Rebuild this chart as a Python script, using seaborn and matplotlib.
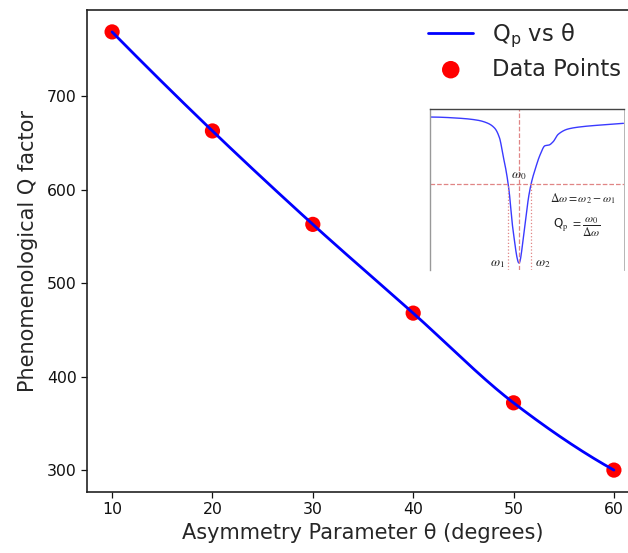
import numpy as np
import pandas as pd
import matplotlib
matplotlib.use("Agg")
import matplotlib.pyplot as plt
import seaborn as sns

# ---- data ----
theta = [10, 20, 30, 40, 50, 60]
q_factor = [769, 663, 563, 468, 372, 300]

# inset illustration curve (normalised units)
inset_x = [0.005, 0.160, 0.247, 0.299, 0.334, 0.359, 0.376, 0.393, 0.407, 0.428,
           0.459, 0.486, 0.510, 0.526, 0.541, 0.567, 0.593, 0.613, 0.635, 0.661,
           0.712, 0.782, 0.885, 0.997]
inset_y = [0.950, 0.942, 0.930, 0.911, 0.880, 0.818, 0.714, 0.611, 0.497, 0.248,
           0.043, 0.248, 0.466, 0.559, 0.621, 0.714, 0.772, 0.776, 0.797, 0.843,
           0.876, 0.890, 0.901, 0.911]
hline_y = 0.534
w0_x, w1_x, w2_x = 0.459, 0.402, 0.520

sns.set_style("ticks")
plt.rcParams["font.family"] = ["DejaVu Sans"]


def pchip(x, y, n=400):
    """Shape-preserving piecewise cubic through the given points."""
    x = np.asarray(x, float)
    y = np.asarray(y, float)
    h = np.diff(x)
    d = np.diff(y) / h
    m = np.zeros_like(y)
    for k in range(1, len(x) - 1):
        if d[k - 1] * d[k] > 0:
            w1 = 2 * h[k] + h[k - 1]
            w2 = h[k] + 2 * h[k - 1]
            m[k] = (w1 + w2) / (w1 / d[k - 1] + w2 / d[k])

    def end(h0, h1, d0, d1):
        v = ((2 * h0 + h1) * d0 - h0 * d1) / (h0 + h1)
        if np.sign(v) != np.sign(d0):
            v = 0.0
        elif np.sign(d0) != np.sign(d1) and abs(v) > abs(3 * d0):
            v = 3 * d0
        return v

    m[0] = end(h[0], h[1], d[0], d[1])
    m[-1] = end(h[-1], h[-2], d[-1], d[-2])
    xs = np.linspace(x[0], x[-1], n)
    idx = np.clip(np.searchsorted(x, xs) - 1, 0, len(x) - 2)
    t = (xs - x[idx]) / h[idx]
    h00 = 2 * t ** 3 - 3 * t ** 2 + 1
    h10 = t ** 3 - 2 * t ** 2 + t
    h01 = -2 * t ** 3 + 3 * t ** 2
    h11 = t ** 3 - t ** 2
    ys = h00 * y[idx] + h10 * h[idx] * m[idx] + h01 * y[idx + 1] + h11 * h[idx] * m[idx + 1]
    return xs, ys


xs, ys = pchip(theta, q_factor)
df_line = pd.DataFrame({"theta": xs, "Q": ys})
df_pts = pd.DataFrame({"theta": theta, "Q": q_factor})

fig = plt.figure(figsize=(6.28, 5.53), dpi=100)
ax = fig.add_axes([87 / 628, 61 / 553, 552 / 628, 482 / 553])

sns.lineplot(data=df_line, x="theta", y="Q", ax=ax, color="blue", lw=2,
             label=r"Q$_\mathrm{p}$ vs θ", zorder=3)
sns.scatterplot(data=df_pts, x="theta", y="Q", ax=ax, color="red", s=120,
                edgecolor="none", label="Data Points", zorder=2)

ax.set_xticks([10, 20, 30, 40, 50, 60])
ax.set_yticks([300, 400, 500, 600, 700])
ax.tick_params(labelsize=11.3, colors="#111111", length=4, width=0.9)
ax.set_xlabel("Asymmetry Parameter θ (degrees)", fontsize=15, labelpad=4)
ax.set_ylabel("Phenomenological Q factor", fontsize=15, labelpad=6)
for s in ax.spines.values():
    s.set_color("#222222")
    s.set_linewidth(1.2)

leg = ax.legend(loc="upper right", bbox_to_anchor=(0.987, 1.0), frameon=False,
                fontsize=16.3, handlelength=2.0, markerscale=1.15, borderaxespad=0.1,
                labelspacing=0.35)

# ---- inset illustration ----
iax = fig.add_axes([430 / 628, 283 / 553, 194 / 628, 161 / 553])
ixs, iys = pchip(inset_x, inset_y)
sns.lineplot(x=ixs, y=iys, ax=iax, color="#3a3aff", lw=1.0)
iax.axhline(hline_y, color="#e08585", ls="--", lw=0.9)
iax.axvline(w0_x, color="#e08585", ls="--", lw=0.9)
iax.plot([w1_x, w1_x], [0, hline_y], color="#e08585", ls=":", lw=0.9)
iax.plot([w2_x, w2_x], [0, hline_y], color="#e08585", ls=":", lw=0.9)
iax.set_xlim(0, 1)
iax.set_ylim(0, 1)
iax.set_xticks([])
iax.set_yticks([])
iax.set_xlabel("")
iax.set_ylabel("")
iax.spines["bottom"].set_visible(False)
iax.spines["left"].set_color("#999999")
iax.spines["top"].set_color("#444444")
iax.spines["right"].set_color("#aaaaaa")
iax.spines["left"].set_linewidth(1.0)
iax.spines["top"].set_linewidth(1.0)
iax.spines["right"].set_linewidth(0.6)

mt = dict(math_fontfamily="stix", color="#222222")
iax.text(w0_x, hline_y + 0.015, r"$\omega_0$", ha="center", va="bottom", fontsize=9.5, **mt)
iax.text(w1_x - 0.015, 0.0, r"$\omega_1$", ha="right", va="bottom", fontsize=9.5, **mt)
iax.text(w2_x + 0.02, 0.0, r"$\omega_2$", ha="left", va="bottom", fontsize=9.5, **mt)
iax.text(0.785, 0.445, r"$\Delta\omega = \omega_2 - \omega_1$", ha="center", va="center",
         fontsize=8.5, **mt)
iax.text(0.755, 0.265, r"Q$_\mathrm{p}$ $=\dfrac{\omega_0}{\Delta\omega}$", ha="center",
         va="center", fontsize=8.5, **mt)

fig.savefig("out.png", dpi=100)
